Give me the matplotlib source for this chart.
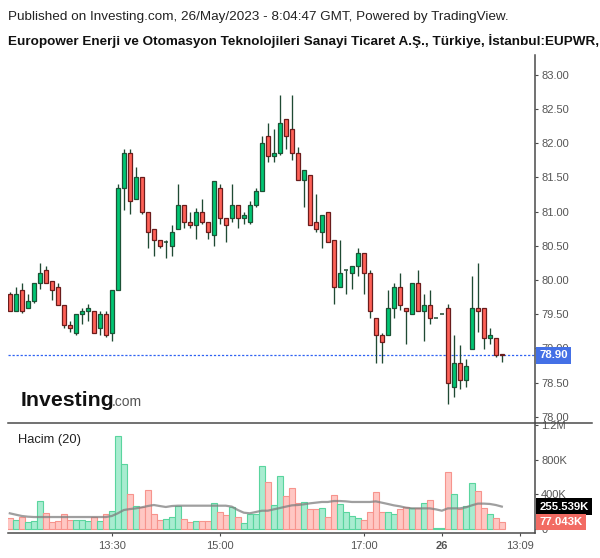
import numpy as np
import matplotlib
matplotlib.use('Agg')
import matplotlib.pyplot as plt
from matplotlib.patches import Rectangle
from matplotlib.lines import Line2D

plt.rcParams['font.family'] = ['Liberation Sans', 'DejaVu Sans']
plt.rcParams['lines.scale_dashes'] = False

# 5 minute candles (index 0 = leftmost candle)
opens = [79.79, 79.54, 79.85, 79.59, 79.69, 79.95, 80.14, 79.99, 79.89, 79.64,
         79.34, 79.23, 79.50, 79.54, 79.54, 79.29, 79.50, 79.23, 79.85, 81.35,
         81.85, 81.19, 81.50, 81.00, 80.74, 80.59, 80.55, 80.49, 80.74, 81.10,
         80.84, 80.80, 81.00, 80.84, 80.65, 81.35, 80.90, 80.90, 81.10, 80.90,
         80.84, 81.10, 81.30, 82.10, 81.81, 81.85, 82.35, 82.20, 81.85, 81.46,
         81.54, 80.84, 80.70, 81.00, 80.59, 79.89, 80.14, 80.10, 80.20, 80.39,
         80.10, 79.44, 79.19, 79.19, 79.59, 79.89, 79.59, 79.50, 79.95, 79.54,
         79.64, 79.44, 79.50, 79.59, 78.43, 78.78, 78.53, 78.99, 79.59, 79.59,
         79.15, 79.15, 78.91]
highs = [79.82, 79.90, 79.95, 79.79, 79.95, 80.25, 80.20, 79.99, 79.95, 79.64,
         79.40, 79.50, 79.59, 79.65, 79.54, 79.54, 79.54, 79.85, 81.40, 81.91,
         81.91, 81.65, 81.50, 81.00, 80.74, 80.59, 80.59, 80.80, 81.40, 81.10,
         81.00, 81.05, 81.19, 80.84, 81.45, 81.40, 80.90, 81.40, 81.10, 81.00,
         81.15, 81.35, 82.10, 82.30, 82.20, 82.70, 82.35, 82.70, 81.95, 81.60,
         81.54, 81.26, 80.95, 81.00, 80.59, 80.59, 80.14, 80.20, 80.46, 80.39,
         80.15, 79.44, 79.23, 79.85, 79.95, 80.10, 79.59, 79.95, 80.15, 79.79,
         79.85, 79.44, 79.50, 79.65, 79.19, 79.05, 78.84, 80.05, 80.25, 79.59,
         79.29, 79.15, 78.91]
lows = [79.54, 79.54, 79.51, 79.59, 79.66, 79.86, 79.95, 79.70, 79.64, 79.30,
        79.24, 79.20, 79.35, 79.40, 79.23, 79.20, 79.16, 79.10, 79.85, 81.02,
        80.96, 81.19, 80.96, 80.46, 80.35, 80.46, 80.32, 80.35, 80.74, 80.76,
        80.76, 80.60, 80.81, 80.60, 80.50, 80.81, 80.56, 80.85, 80.76, 80.81,
        80.81, 81.06, 81.30, 81.72, 81.72, 81.82, 81.92, 81.76, 81.46, 81.06,
        80.80, 80.70, 80.46, 80.55, 79.65, 79.89, 79.80, 79.86, 80.05, 79.80,
        79.45, 78.79, 78.79, 79.19, 79.45, 79.56, 79.06, 79.50, 79.54, 79.10,
        79.35, 79.44, 79.50, 78.19, 78.29, 78.40, 78.44, 78.99, 79.24, 78.99,
        79.06, 78.88, 78.80]
closes = [79.54, 79.79, 79.54, 79.69, 79.95, 80.10, 79.95, 79.85, 79.64, 79.34,
          79.29, 79.50, 79.54, 79.59, 79.23, 79.50, 79.19, 79.85, 81.35, 81.85,
          81.15, 81.50, 81.00, 80.70, 80.59, 80.49, 80.55, 80.70, 81.10, 80.84,
          80.80, 81.00, 80.84, 80.70, 81.45, 80.90, 80.80, 81.10, 80.90, 80.95,
          81.10, 81.30, 82.00, 81.81, 81.85, 82.30, 82.10, 81.85, 81.46, 81.60,
          80.80, 80.74, 80.95, 80.55, 79.89, 80.10, 80.14, 80.20, 80.39, 80.10,
          79.54, 79.19, 79.09, 79.59, 79.89, 79.64, 79.54, 79.95, 79.54, 79.64,
          79.44, 79.44, 79.50, 78.49, 78.78, 78.53, 78.74, 79.59, 79.54, 79.15,
          79.19, 78.90, 78.90]

# volume in thousands
volumes = [120, 100, 139, 77, 89, 320, 178, 77, 89, 166,
           100, 100, 100, 89, 135, 89, 166, 208, 1072, 752,
           401, 262, 247, 444, 166, 100, 112, 135, 262, 112,
           77, 89, 89, 89, 297, 193, 155, 247, 132, 66,
           166, 173, 725, 540, 270, 609, 375, 470, 293, 305,
           224, 224, 236, 132, 386, 282, 190, 143, 120, 100,
           190, 421, 190, 190, 166, 224, 247, 236, 236, 294,
           328, 3, 3, 652, 401, 224, 259, 525, 432, 236,
           166, 120, 77.043]
# Hacim (20) moving average as drawn, thousands
vol_ma = [178, 162, 147, 139, 135, 135, 135, 135, 135, 135,
          135, 135, 135, 135, 135, 135, 135, 147, 178, 216,
          227, 235, 247, 262, 274, 262, 251, 262, 266, 266,
          266, 266, 266, 266, 266, 266, 266, 255, 216, 185,
          178, 193, 208, 208, 224, 239, 255, 270, 274, 282,
          293, 301, 309, 309, 320, 320, 316, 309, 309, 309,
          309, 316, 301, 286, 270, 259, 243, 235, 235, 235,
          235, 224, 208, 235, 235, 235, 247, 270, 290, 290,
          286, 274, 255.539]

time_ticks = [17, 35, 59, 72, 85.1]
time_labels = ['13:30', '15:00', '17:00', '26', '13:09']
price_ticks = [78.0, 78.5, 79.0, 79.5, 80.0, 80.5, 81.0, 81.5, 82.0, 82.5, 83.0]
vol_ticks = [0, 400, 800, 1200]
vol_tick_labels = ['0', '400K', '800K', '1.2M']
last_price = 78.90

UP_FILL, UP_EDGE = '#00c673', '#1d5236'
DN_FILL, DN_EDGE = '#ff6157', '#6a1c1c'
WICK = '#1f4a33'
VUP_FILL, VUP_EDGE = '#a8ecd0', '#5ad59e'
VDN_FILL, VDN_EDGE = '#ffc7c3', '#f7948d'
AXIS = '#4a4a4a'
TICK_TXT = '#555555'

W, H = 600, 558
fig = plt.figure(figsize=(W / 100, H / 100), dpi=100)

def fx(px):
    return px / W

def fy(py):
    return 1 - py / H

left, right = fx(8), fx(534.7)
ax = fig.add_axes([left, fy(423), right - left, fy(55) - fy(423)])
axv = fig.add_axes([left, fy(533), right - left, fy(423) - fy(533)])

n = len(opens)
idx = np.arange(n)
up = np.array(closes) >= np.array(opens)

# candles
body_w = 0.6
for i in range(n):
    o, h, l, c = opens[i], highs[i], lows[i], closes[i]
    ax.vlines(i, l, h, color=WICK, lw=0.95, zorder=2)
    fc, ec = (UP_FILL, UP_EDGE) if up[i] else (DN_FILL, DN_EDGE)
    if abs(c - o) < 1e-9:
        ax.hlines(o, i - body_w / 2, i + body_w / 2, color=WICK, lw=1.1, zorder=3)
    else:
        ax.add_patch(Rectangle((i - body_w / 2, min(o, c)), body_w, abs(c - o),
                               facecolor=fc, edgecolor=ec, lw=0.9, zorder=3))

ax.axhline(last_price, color='#2f62f2', lw=0.9, ls=(0, (1.6, 1.3)), zorder=1)

ax.set_xlim(-0.3, 87.48)
ax.set_ylim(77.908, 83.288)
ax.set_yticks(price_ticks)
ax.set_yticklabels(['%.2f' % t for t in price_ticks])
ax.yaxis.tick_right()
ax.set_xticks([])
for s in ['top', 'left', 'bottom']:
    ax.spines[s].set_visible(False)
ax.spines['right'].set_color(AXIS)
ax.spines['right'].set_linewidth(1.1)
ax.tick_params(axis='y', colors=AXIS, labelcolor=TICK_TXT, length=2.5, width=0.8,
               pad=2.2, labelsize=8)

ax.annotate('%.2f' % last_price, xy=(1, last_price), xycoords=ax.get_yaxis_transform(),
            xytext=(3.2, 0), textcoords='offset points', ha='left', va='center',
            color='white', fontsize=8.2, fontweight='bold', annotation_clip=False,
            bbox=dict(boxstyle='square,pad=0.3', fc='#4470e6', ec='none'), zorder=10)

# investing.com logo
ax.text(fx(21), fy(406), 'Investing', transform=fig.transFigure, fontsize=15.3,
        fontweight='bold', color='#111111', va='baseline', ha='left')
ax.text(fx(112), fy(406), '.com', transform=fig.transFigure, fontsize=10,
        color='#555555', va='baseline', ha='left')

# volume panel
vcol = [VUP_FILL if u else VDN_FILL for u in up]
vedge = [VUP_EDGE if u else VDN_EDGE for u in up]
axv.bar(idx, volumes, width=1.0, color=vcol, edgecolor=vedge, lw=0.8, zorder=2)
axv.plot(idx, vol_ma, color='#7f7f7f', lw=1.6, alpha=0.75, zorder=3)

axv.set_xlim(-0.3, 87.48)
axv.set_ylim(-49.7, 1222)
axv.set_yticks(vol_ticks)
axv.set_yticklabels(vol_tick_labels)
axv.yaxis.tick_right()
axv.set_xticks(time_ticks)
axv.set_xticklabels(time_labels)
for lab in axv.get_xticklabels():
    if lab.get_text() == '26':
        lab.set_fontweight('bold')
        lab.set_color('#333333')
for s in ['top', 'left']:
    axv.spines[s].set_visible(False)
for s in ['right', 'bottom']:
    axv.spines[s].set_color(AXIS)
    axv.spines[s].set_linewidth(1.1)
axv.tick_params(axis='y', colors=AXIS, labelcolor=TICK_TXT, length=2.5, width=0.8,
                pad=2.2, labelsize=8)
axv.tick_params(axis='x', colors=AXIS, labelcolor=TICK_TXT, length=2.5, width=0.8,
                pad=3, labelsize=8)

axv.text(fx(18), fy(440), 'Hacim (20)', transform=fig.transFigure, fontsize=9.3,
         color='#222222', va='center', ha='left')

axv.annotate('%.3fK' % vol_ma[-1], xy=(1, vol_ma[-1]), xycoords=axv.get_yaxis_transform(),
             xytext=(3.2, 0), textcoords='offset points', ha='left', va='center',
             color='white', fontsize=8.2, fontweight='bold', annotation_clip=False,
             bbox=dict(boxstyle='square,pad=0.3', fc='#000000', ec='none'), zorder=10)
axv.annotate('%.3fK' % volumes[-1], xy=(1, volumes[-1]), xycoords=axv.get_yaxis_transform(),
             xytext=(3.2, 0), textcoords='offset points', ha='left', va='center',
             color='white', fontsize=8.2, fontweight='bold', annotation_clip=False,
             bbox=dict(boxstyle='square,pad=0.3', fc='#f26b63', ec='none'), zorder=10)

# separator between the panels runs under the price scale
fig.add_artist(Line2D([fx(8), fx(592)], [fy(423), fy(423)], color=AXIS, lw=1.1))

fig.text(fx(8), fy(17), 'Published on Investing.com, 26/May/2023 - 8:04:47 GMT, Powered by TradingView.',
         fontsize=9.7, color='#222222', va='center', ha='left')
fig.text(fx(8), fy(41), 'Europower Enerji ve Otomasyon Teknolojileri Sanayi Ticaret A.Ş., Türkiye, İstanbul:EUPWR, 5',
         fontsize=9.7, fontweight='bold', color='#111111', va='center', ha='left')

fig.savefig('out.png', dpi=100)
